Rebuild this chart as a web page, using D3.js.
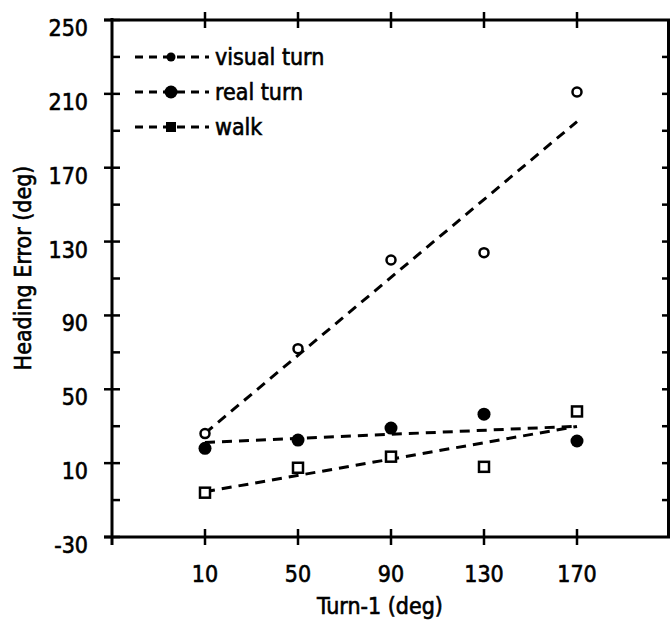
<!DOCTYPE html>
<html>
<head>
<meta charset="utf-8">
<script src="https://cdn.jsdelivr.net/npm/d3@7"></script>
<style>
  body { margin: 0; background: #fff; }
  svg { display: block; font-family: "DejaVu Sans Condensed", "DejaVu Sans", sans-serif; }
  svg text { fill: #000; stroke: #000; stroke-width: 0.6px; }
</style>
</head>
<body>
<svg id="chart" width="670" height="622"></svg>
<script>
const turnAngles = [10, 50, 90, 130, 170];
const visualTurn = [26, 72, 120, 124, 211];
const realTurn = [18, 22.5, 29, 36.5, 22];
const walk = [-6, 7.5, 13.5, 8, 38];
const seriesNames = ["visual turn", "real turn", "walk"];
const xTicks = [10, 50, 90, 130, 170];
const yTicks = [-30, 10, 50, 90, 130, 170, 210, 250];

const svg = d3.select("svg#chart");
const width = +svg.attr("width");
const height = +svg.attr("height");

const margin = { top: 20, right: 0, bottom: 85, left: 112 };
const chartWidth = width - margin.left - margin.right;
const chartHeight = height - margin.top - margin.bottom;

const x = d3.scaleLinear([-30, 210], [0, chartWidth]);
const y = d3.scaleLinear([-30, 250], [chartHeight, 0]);

const chart = svg
	.append("g")
	.attr("transform", `translate(${margin.left},${margin.top})`);

// axes frame
const frame = chart.append("g").attr("stroke", "#000").attr("stroke-width", 3);
frame.append("line").attr("x1", 0).attr("x2", 0).attr("y1", -2).attr("y2", chartHeight + 8);
frame.append("line").attr("x1", -8).attr("x2", chartWidth).attr("y1", chartHeight).attr("y2", chartHeight);
frame.append("line").attr("x1", -8).attr("x2", chartWidth).attr("y1", 0).attr("y2", 0);
frame.append("line").attr("x1", chartWidth - 1.5).attr("x2", chartWidth - 1.5).attr("y1", 0).attr("y2", chartHeight);

const ticks = chart.append("g").attr("stroke", "#000").attr("stroke-width", 2.5);
// left: major crossing, minor inward
ticks.selectAll(".ymaj")
	.data(yTicks)
	.join("line")
	.attr("x1", -8).attr("x2", 8)
	.attr("y1", (d) => y(d)).attr("y2", (d) => y(d));
ticks.selectAll(".ymin")
	.data(yTicks.slice(0, -1).map((d) => d + 20))
	.join("line")
	.attr("x1", 0).attr("x2", 8)
	.attr("y1", (d) => y(d)).attr("y2", (d) => y(d));
// right: inward ticks every 20
ticks.selectAll(".yright")
	.data(d3.range(-10, 250, 20))
	.join("line")
	.attr("x1", chartWidth - 8).attr("x2", chartWidth)
	.attr("y1", (d) => y(d)).attr("y2", (d) => y(d));
// bottom and top crossing ticks
ticks.selectAll(".xb")
	.data(xTicks)
	.join("line")
	.attr("x1", (d) => x(d)).attr("x2", (d) => x(d))
	.attr("y1", chartHeight - 8).attr("y2", chartHeight + 8);
ticks.selectAll(".xt")
	.data(xTicks)
	.join("line")
	.attr("x1", (d) => x(d)).attr("x2", (d) => x(d))
	.attr("y1", -8).attr("y2", 8);

// tick labels
chart.append("g")
	.selectAll("text")
	.data(yTicks)
	.join("text")
	.attr("x", -24)
	.attr("y", (d) => y(d) + 16)
	.attr("text-anchor", "end")
	.attr("font-size", 23)
	.text((d) => d);

chart.append("g")
	.selectAll("text")
	.data(xTicks)
	.join("text")
	.attr("x", (d) => x(d))
	.attr("y", chartHeight + 45)
	.attr("text-anchor", "middle")
	.attr("font-size", 23)
	.text((d) => d);

// axis titles
svg.append("text")
	.attr("x", 380)
	.attr("y", 614)
	.attr("text-anchor", "middle")
	.attr("font-size", 23)
	.text("Turn-1 (deg)");

svg.append("text")
	.attr("transform", `translate(31,268) rotate(-90)`)
	.attr("text-anchor", "middle")
	.attr("font-size", 23)
	.text("Heading Error (deg)");

// least-squares fit lines
const fit = (ys) => {
	const mx = d3.mean(turnAngles);
	const my = d3.mean(ys);
	const sxy = d3.sum(turnAngles, (t, i) => (t - mx) * (ys[i] - my));
	const sxx = d3.sum(turnAngles, (t) => (t - mx) ** 2);
	const b = sxy / sxx;
	return [turnAngles[0], turnAngles[turnAngles.length - 1]].map((t) => ({ t, v: my + b * (t - mx) }));
};

const series = [visualTurn, realTurn, walk];
const line = d3.line().x((d) => x(d.t)).y((d) => y(d.v));

chart.append("g")
	.selectAll("path")
	.data(series)
	.join("path")
	.attr("d", (d) => line(fit(d)))
	.attr("fill", "none")
	.attr("stroke", "#000")
	.attr("stroke-width", 3)
	.attr("stroke-dasharray", "10,7");

// markers
const pts = (ys) => ys.map((v, i) => ({ t: turnAngles[i], v }));

chart.append("g")
	.selectAll("circle")
	.data(pts(visualTurn))
	.join("circle")
	.attr("cx", (d) => x(d.t)).attr("cy", (d) => y(d.v))
	.attr("r", 4.5)
	.attr("fill", "#fff").attr("stroke", "#000").attr("stroke-width", 2.5);

chart.append("g")
	.selectAll("circle")
	.data(pts(realTurn))
	.join("circle")
	.attr("cx", (d) => x(d.t)).attr("cy", (d) => y(d.v))
	.attr("r", 6.5)
	.attr("fill", "#000");

chart.append("g")
	.selectAll("rect")
	.data(pts(walk))
	.join("rect")
	.attr("x", (d) => x(d.t) - 5).attr("y", (d) => y(d.v) - 5)
	.attr("width", 10).attr("height", 10)
	.attr("fill", "#fff").attr("stroke", "#000").attr("stroke-width", 2.5);

// legend
const legend = svg.append("g").attr("transform", "translate(135,57)");
const rows = legend
	.selectAll("g")
	.data(seriesNames)
	.join("g")
	.attr("transform", (d, i) => `translate(0,${i * 35})`);

rows.append("line")
	.attr("x1", 0).attr("x2", 74)
	.attr("stroke", "#000").attr("stroke-width", 3)
	.attr("stroke-dasharray", "8,6");

rows.each(function (d, i) {
	const g = d3.select(this);
	if (i === 0) g.append("circle").attr("cx", 36).attr("r", 4.5).attr("fill", "#000");
	if (i === 1) g.append("circle").attr("cx", 36).attr("r", 6.5).attr("fill", "#000");
	if (i === 2) g.append("rect").attr("x", 31).attr("y", -5).attr("width", 10).attr("height", 10).attr("fill", "#000");
});

rows.append("text")
	.attr("x", 80)
	.attr("y", 8)
	.attr("font-size", 23)
	.text((d) => d);
</script>
</body>
</html>
